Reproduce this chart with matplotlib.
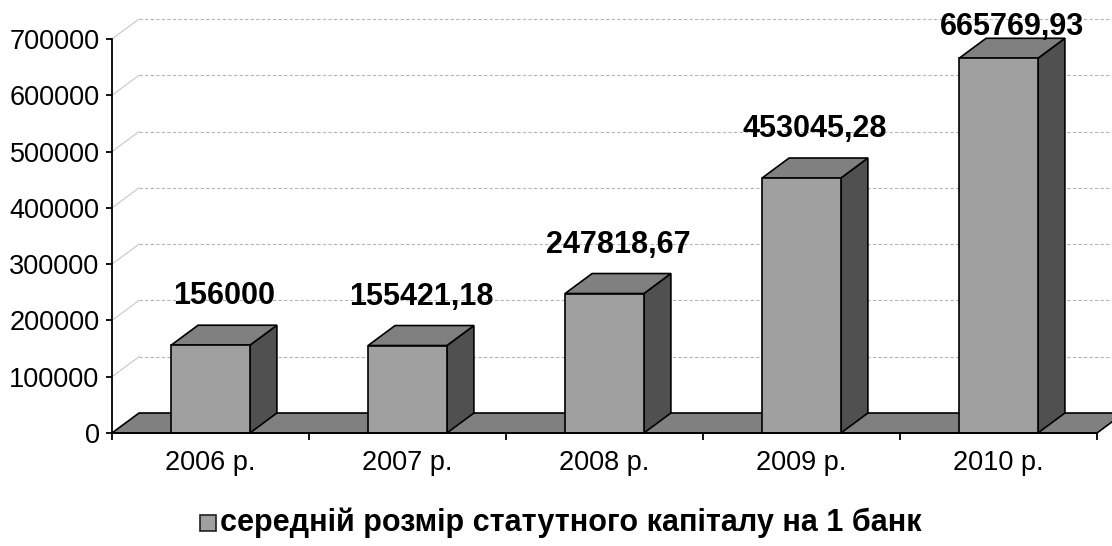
import matplotlib
matplotlib.use("Agg")
import matplotlib.pyplot as plt
from matplotlib.patches import Polygon, Rectangle

# data
years = ["2006 р.", "2007 р.", "2008 р.", "2009 р.", "2010 р."]
values = [156000, 155421.18, 247818.67, 453045.28, 665769.93]
value_labels = ["156000", "155421,18", "247818,67", "453045,28", "665769,93"]
legend_label = "середній розмір статутного капіталу на 1 банк"
y_ticks = [0, 100000, 200000, 300000, 400000, 500000, 600000, 700000]

plt.rcParams["font.family"] = ["Liberation Sans", "DejaVu Sans"]

FRONT = "#a0a0a0"
TOP = "#808080"
SIDE = "#505050"
FLOOR = "#808080"
DX = 0.137      # depth offset in category units
DY = 35500      # depth offset in value units
BAR_W = 0.4
W, H = 1112, 546

fig = plt.figure(figsize=(W / 100, H / 100), dpi=100)
ax = fig.add_axes([112 / W, 113 / H, 985 / W, 394 / H])
ax.set_xlim(0, len(years))
ax.set_ylim(0, 700000)
n = len(years)

# back wall gridlines
for v in y_ticks[1:]:
    ax.plot([0, DX], [v, v + DY], color="#c8c8c8", lw=0.8, clip_on=False, zorder=1)
    ax.plot([DX, n + DX], [v + DY, v + DY], color="#b4b4b4", lw=0.8,
            ls=(0, (3, 2)), clip_on=False, zorder=1)

# floor
floor = Polygon([(0, 0), (DX, DY), (n + DX, DY), (n, 0)], closed=True,
                facecolor=FLOOR, edgecolor="black", lw=1.2, clip_on=False, zorder=2)
ax.add_patch(floor)

# bars
for i, v in enumerate(values):
    x0 = i + 0.5 - BAR_W / 2
    x1 = i + 0.5 + BAR_W / 2
    side = Polygon([(x1, 0), (x1 + DX, DY), (x1 + DX, v + DY), (x1, v)],
                   facecolor=SIDE, edgecolor="black", lw=1.2, clip_on=False, zorder=3)
    top = Polygon([(x0, v), (x0 + DX, v + DY), (x1 + DX, v + DY), (x1, v)],
                  facecolor=TOP, edgecolor="black", lw=1.2, clip_on=False, zorder=3)
    front = Polygon([(x0, 0), (x0, v), (x1, v), (x1, 0)],
                    facecolor=FRONT, edgecolor="black", lw=1.2, clip_on=False, zorder=4)
    for p in (side, top, front):
        ax.add_patch(p)
    label_y = min(v + DY + 37000, 707000)
    ax.text(i + 0.5 + DX / 2, label_y, value_labels[i], ha="center", va="baseline",
            fontsize=22, fontweight="bold", zorder=5, clip_on=False)

# axes
for s in ("top", "right"):
    ax.spines[s].set_visible(False)
ax.spines["left"].set_linewidth(1.3)
ax.spines["bottom"].set_linewidth(1.3)
ax.spines["bottom"].set_zorder(6)

ax.set_yticks(y_ticks)
ax.set_yticklabels([str(t) for t in y_ticks])
ax.tick_params(axis="y", length=4, width=1.3, labelsize=19.5, pad=5)

ax.set_xticks(range(n + 1))
ax.set_xticklabels([])
ax.set_xticks([i + 0.5 for i in range(n)], minor=True)
ax.set_xticklabels(years, minor=True)
ax.tick_params(axis="x", which="major", length=5, width=1.3)
ax.tick_params(axis="x", which="minor", length=0, labelsize=19.5, pad=12)

# legend (square key + bold label at the bottom)
fig.patches.append(Rectangle((200 / W, 1 - 531 / H), 16 / W, 16 / H,
                             transform=fig.transFigure, facecolor=FRONT,
                             edgecolor="#202020", lw=1.2))
fig.text(220 / W, 1 - 531 / H, legend_label, ha="left", va="baseline",
         fontsize=22, fontweight="bold")

fig.savefig("out.png", dpi=100)
